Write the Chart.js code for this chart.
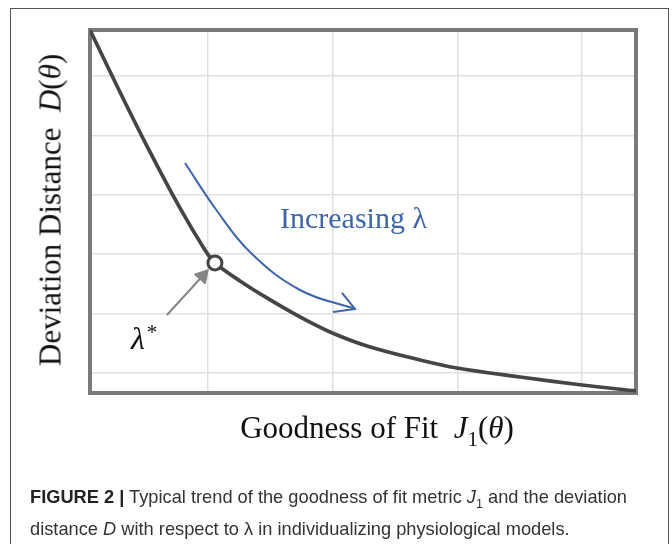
<!DOCTYPE html>
<html>
<head>
<meta charset="utf-8">
<script src="https://cdn.jsdelivr.net/npm/chart.js@4/dist/chart.umd.min.js"></script>
<style>
  html, body { margin:0; padding:0; background:#fff; }
  body { width:672px; height:544px; position:relative; overflow:hidden; }
  #frame { position:absolute; left:10px; top:8px; width:659px; height:600px; border:1.5px solid #555; box-sizing:border-box; }
  canvas { position:absolute; left:0; top:0; }
  .serif { font-family:"Liberation Serif","Times New Roman",serif; position:absolute; white-space:nowrap; line-height:1; color:#111; }
  #ytitle { left:50px; top:210px; font-size:31px; transform:translate(-50%,-50%) rotate(-90deg); }
  #xtitle { left:377px; top:431px; font-size:31px; transform:translate(-50%,-50%); }
  #inc { left:280px; top:203px; font-size:30px; color:#3d65a8; }
  #lam { left:131px; top:322px; font-size:32px; }
  #lam sup { font-size:21px; vertical-align:0; position:relative; top:-10px; margin-left:2px; }
  #cap { position:absolute; left:30px; top:484px; font-family:"Liberation Sans","Arial",sans-serif; font-size:19px; line-height:25px; color:#333; white-space:nowrap; transform-origin:0 0; }
  #cap b { color:#222; }
</style>
</head>
<body>
<div id="frame"></div>
<canvas id="c" width="672" height="544"></canvas>
<div id="ytitle" class="serif">Deviation Distance&nbsp; <i>D</i>(<i>θ</i>)</div>
<div id="xtitle" class="serif">Goodness of Fit&nbsp; <i>J</i><sub style="font-size:21px">1</sub>(<i>θ</i>)</div>
<div id="inc" class="serif">Increasing λ</div>
<div id="lam" class="serif"><i>λ</i><sup>*</sup></div>
<div id="cap"><span id="l1"><b>FIGURE 2 |</b> Typical trend of the goodness of fit metric <i>J</i><sub style="font-size:13px">1</sub> and the deviation</span><br><span id="l2">distance <i>D</i> with respect to λ in individualizing physiological models.</span></div>
<script>
// grid positions (no tick labels are shown)
const xGrid = [0, 1, 2, 3];
const yGrid = [0, 1, 2, 3, 4, 5];
const xRange = [-0.946, 3.433];
const yRange = [-0.337, 5.774];

// main trade-off curve: goodness of fit J1 vs deviation distance D
const curveX = [-0.946, -0.706, -0.465, -0.225, -0.024, 0.056, 0.257, 0.473, 0.738, 0.979, 1.275, 1.701, 1.997, 2.503, 3.000, 3.433];
const curveY = [5.774, 4.731, 3.721, 2.778, 2.071, 1.852, 1.549, 1.263, 0.943, 0.690, 0.455, 0.219, 0.084, -0.067, -0.202, -0.303];

// optimal lambda* point
const optX = [0.056];
const optY = [1.852];

// "Increasing lambda" arrow path and head
const incX = [-0.184, 0.056, 0.337, 0.738, 1.179];
const incY = [3.535, 2.778, 2.037, 1.397, 1.077];
const incHeadX = [1.075, 1.179, 1.003];
const incHeadY = [1.347, 1.077, 1.027];

// pointer arrow from the lambda* label to the point
const ptrX = [-0.329, -0.043];
const ptrY = [0.976, 1.633];

const pts = (xs, ys) => xs.map((x, i) => ({ x: x, y: ys[i] }));

const framePlugin = {
  id: 'frame',
  beforeDatasetsDraw(chart) {
    const a = chart.chartArea, ctx = chart.ctx;
    ctx.save();
    ctx.strokeStyle = '#7a7a7a';
    ctx.lineWidth = 4;
    ctx.strokeRect(a.left, a.top, a.right - a.left, a.bottom - a.top);
    ctx.restore();
  }
};

const chart = new Chart(document.getElementById('c'), {
  type: 'line',
  data: {
    datasets: [
      { data: pts(optX, optY), showLine: false, pointRadius: 7, pointBorderWidth: 3,
        pointBorderColor: '#444444', pointBackgroundColor: '#ffffff' },
      { data: pts(ptrX, ptrY), borderColor: '#858585', borderWidth: 2, tension: 0,
        pointRadius: [0, 8.5], pointStyle: 'triangle', pointRotation: 42,
        pointBackgroundColor: '#858585', pointBorderColor: '#858585', pointBorderWidth: 1 },
      { data: pts(curveX, curveY), borderColor: '#454545', borderWidth: 3.7, pointRadius: 0,
        tension: 0.35, borderCapStyle: 'round' },
      { data: pts(incX, incY), borderColor: '#3d65a8', borderWidth: 2, pointRadius: 0,
        tension: 0.4 },
      { data: pts(incHeadX, incHeadY), borderColor: '#3d65a8', borderWidth: 2, pointRadius: 0,
        tension: 0, borderJoinStyle: 'miter' }
    ]
  },
  options: {
    responsive: false,
    animation: false,
    events: [],
    layout: { padding: { left: 90, top: 30, right: 36, bottom: 151 } },
    plugins: { legend: { display: false }, tooltip: { enabled: false } },
    scales: {
      x: {
        type: 'linear', min: xRange[0], max: xRange[1],
        afterBuildTicks: s => { s.ticks = xGrid.map(v => ({ value: v })); },
        ticks: { display: false },
        grid: { color: '#e0e0e0', lineWidth: 1.5, drawTicks: false },
        border: { display: false }
      },
      y: {
        type: 'linear', min: yRange[0], max: yRange[1],
        afterBuildTicks: s => { s.ticks = yGrid.map(v => ({ value: v })); },
        ticks: { display: false },
        grid: { color: '#e0e0e0', lineWidth: 1.5, drawTicks: false },
        border: { display: false }
      }
    }
  },
  plugins: [framePlugin]
});

// fit caption width to the reference's narrow face
const l1 = document.getElementById('l1');
const w = l1.getBoundingClientRect().width;
document.getElementById('cap').style.transform = 'scaleX(' + (597 / w) + ')';
</script>
</body>
</html>
